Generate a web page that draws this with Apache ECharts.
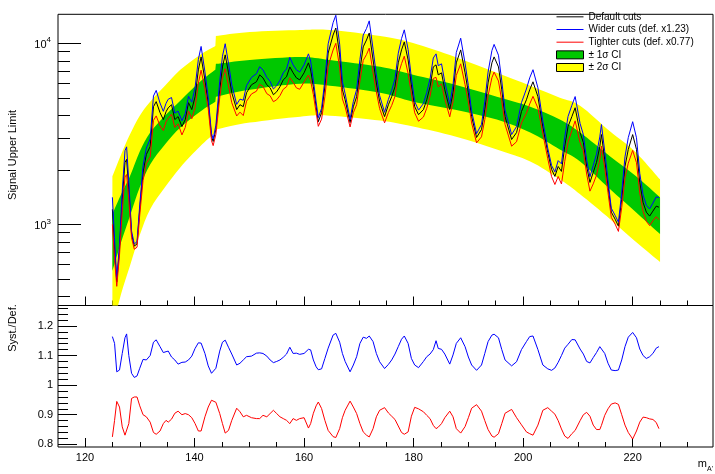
<!DOCTYPE html>
<html>
<head>
<meta charset="utf-8">
<script src="https://cdn.jsdelivr.net/npm/echarts@6/dist/echarts.min.js"></script>
<style>
  html, body { margin: 0; padding: 0; background: #ffffff; }
  #chart { width: 715px; height: 474px; }
</style>
</head>
<body>
<div id="chart"></div>
<script>
// Signal upper limit vs. m_A' for three cut selections, with expected-limit bands,
// and the ratio of the systematic variations to the default selection underneath.

// Mass points of the limit scan
const mass = [
  125.0,125.4,125.8,126.3,126.8,127.3,127.6,128.0,128.5,129.0,
  129.5,130.0,130.6,131.2,131.9,132.5,133.0,133.7,134.3,134.8,
  135.2,135.8,136.4,137.0,137.7,138.3,138.9,139.5,140.1,140.7,
  141.2,141.9,142.5,143.1,143.4,143.9,144.6,145.1,145.6,146.2,
  146.8,147.7,148.3,148.9,149.5,150.4,151.3,151.9,152.5,153.2,
  153.8,154.4,155.0,155.6,156.2,156.8,157.4,158.0,158.6,159.2,
  160.0,160.8,161.2,161.7,162.2,162.6,163.2,163.8,164.4,165.3,
  165.8,166.5,167.0,167.5,168.4,169.0,169.6,170.2,170.8,171.4,
  171.9,172.6,173.2,173.8,174.7,175.4,176.0,176.6,177.2,177.8,
  178.3,179.0,179.6,180.2,180.9,181.8,182.4,183.0,183.6,184.1,
  184.5,185.1,185.7,186.6,187.2,187.8,188.6,189.4,190.0,190.6,
  191.5,192.4,193.0,193.6,194.3,194.7,195.5,196.1,196.7,197.9,
  198.8,199.7,200.6,201.2,201.8,202.7,203.6,204.5,205.2,205.8,
  206.4,207.0,207.6,208.2,208.9,209.5,210.4,211.0,211.6,212.2,
  212.8,213.4,214.0,214.3,214.9,215.5,216.1,216.8,217.4,218.0,
  218.6,219.2,220.0,220.7,221.3,221.9,222.5,223.1,223.7,224.3,
  224.8
];

// Upper limit with the default cuts
const limitDefault = [
  1213,731,482,731,1377,2199,2286,1563,885,760,
  780,1213,1941,2432,2692,4467,4764,4141,3793,4190,
  4406,4580,3793,3938,3467,3793,4699,4306,5070,7130,
  8410,6281,4699,3055,2869,3340,5534,7406,8630,6868,
  5334,4306,4580,4467,5334,5901,6128,6693,6439,5901,
  5678,5199,5398,5754,6281,6531,7406,6868,6439,6281,
  6868,7798,7130,5754,4467,3690,4141,5754,8830,11110,
  12140,8630,5534,4876,3648,4467,5070,7130,9550,10420,
  11400,8090,6040,4764,3938,4580,5070,5754,7798,9190,
  10170,8090,5901,4467,4036,4306,4876,5754,7406,7600,
  6693,6868,5534,4306,5334,7798,9190,6868,5334,3938,
  3020,3340,4306,6040,7798,8410,7406,5534,3938,2944,
  3214,4199,4876,5534,6128,5070,3467,2495,2014,1842,
  2090,1963,2692,3467,3938,4406,3214,2831,2090,1706,
  1936,2199,2692,3133,2286,1626,1169,1069,979,1377,
  2090,2594,3133,2594,1706,1324,1169,1112,1185,1262,
  1245
];

// Wider cuts / default
const ratioWider = [
  1.164,1.141,1.045,1.051,1.107,1.160,1.173,1.100,1.040,1.026,
  1.031,1.057,1.087,1.085,1.100,1.145,1.153,1.130,1.110,1.113,
  1.115,1.095,1.085,1.071,1.077,1.078,1.085,1.098,1.124,1.143,
  1.142,1.107,1.065,1.040,1.034,1.057,1.115,1.145,1.152,1.128,
  1.105,1.068,1.074,1.085,1.096,1.098,1.108,1.109,1.107,1.098,
  1.085,1.076,1.080,1.085,1.094,1.105,1.128,1.107,1.108,1.104,
  1.107,1.121,1.119,1.085,1.062,1.052,1.055,1.090,1.125,1.169,
  1.175,1.145,1.107,1.080,1.045,1.068,1.096,1.141,1.162,1.158,
  1.166,1.147,1.107,1.079,1.056,1.070,1.085,1.105,1.130,1.155,
  1.166,1.141,1.090,1.068,1.059,1.080,1.096,1.105,1.120,1.150,
  1.124,1.121,1.105,1.071,1.102,1.141,1.160,1.130,1.095,1.068,
  1.050,1.068,1.107,1.147,1.169,1.172,1.160,1.120,1.085,1.065,
  1.079,1.120,1.147,1.164,1.166,1.120,1.068,1.055,1.050,1.058,
  1.077,1.100,1.125,1.138,1.154,1.153,1.122,1.105,1.080,1.075,
  1.093,1.110,1.130,1.136,1.107,1.074,1.051,1.049,1.051,1.085,
  1.130,1.162,1.178,1.160,1.122,1.100,1.090,1.096,1.107,1.125,
  1.130
];

// Tighter cuts / default
const ratioTighter = [
  0.825,0.881,0.945,0.926,0.859,0.831,0.825,0.870,0.955,0.960,
  0.960,0.930,0.900,0.893,0.875,0.840,0.834,0.845,0.870,0.881,
  0.875,0.885,0.905,0.912,0.900,0.904,0.900,0.890,0.870,0.845,
  0.845,0.893,0.926,0.949,0.949,0.942,0.904,0.870,0.838,0.847,
  0.881,0.922,0.910,0.893,0.898,0.890,0.887,0.887,0.898,0.893,
  0.904,0.915,0.904,0.893,0.887,0.881,0.870,0.887,0.881,0.887,
  0.890,0.855,0.870,0.905,0.930,0.943,0.921,0.881,0.847,0.826,
  0.823,0.853,0.890,0.915,0.946,0.926,0.904,0.870,0.842,0.831,
  0.825,0.853,0.893,0.915,0.924,0.906,0.895,0.884,0.862,0.840,
  0.834,0.842,0.895,0.925,0.920,0.910,0.898,0.887,0.864,0.853,
  0.858,0.870,0.890,0.912,0.893,0.853,0.838,0.860,0.890,0.922,
  0.934,0.912,0.880,0.850,0.828,0.824,0.836,0.870,0.905,0.918,
  0.890,0.866,0.842,0.836,0.831,0.865,0.915,0.924,0.912,0.902,
  0.880,0.852,0.828,0.820,0.836,0.847,0.880,0.900,0.908,0.895,
  0.865,0.850,0.850,0.864,0.898,0.920,0.936,0.940,0.935,0.900,
  0.865,0.840,0.818,0.845,0.875,0.892,0.890,0.886,0.884,0.874,
  0.853
];

// Expected-limit bands (the edges step at the mass where the inputs change)
const bandMass  = [125.0,126.6,128.2,130.0,131.9,134.6,137.4,141.0,143.8,143.9,150.1,159.3,164.7,173.9,179.9,187.6,195.2,201.3,206.7,210.4,215.9,220.4,225.0];
const band2Up   = [1843,2434,3135,3986,4760,5827,7134,8624,9665,10970,11540,11840,11840,10970,10040,8409,6869,5827,5006,4523,3255,2528,1774];
const band1Up   = [1139,1467,1843,2528,3215,3986,4819,6131,7134,7697,8094,8409,8094,7408,6698,5902,5070,4467,3791,3215,2373,1866,1413];
const band1Low  = [554,800,1111,1603,2145,2762,3425,4193,4760,5070,5539,5977,5827,5332,4760,4300,3791,3215,2592,2227,1563,1183,885];
const band2Low  = [266,414,590,874,1214,1603,2065,2693,3215,3339,3648,3936,3986,3743,3469,3056,2592,2227,1774,1467,1069,810,621];
const BAND_STEP_INDEX = 9;

// Axis ticks
const massMajorTicks = [120,140,160,180,200,220];
const massMinorTicks = [115,120,125,130,135,140,145,150,155,160,165,170,175,180,185,190,195,200,205,210,215,220,225,230];
const limitMajorTicks = [1000,10000];
const limitMinorTicks = [400,500,600,700,800,900,2000,3000,4000,5000,6000,7000,8000,9000];
const ratioMajorTicks = [0.8,0.9,1.0,1.1,1.2];
const ratioMinorTicks = [0.8,0.82,0.84,0.86,0.88,0.9,0.92,0.94,0.96,0.98,1.0,1.02,1.04,1.06,1.08,1.1,1.12,1.14,1.16,1.18,1.2,1.22,1.24,1.26];

// Axis ranges
const MASS_MIN = 115.07, MASS_MAX = 234.67;
const LIMIT_MIN = 357, LIMIT_MAX = 14450;
const RATIO_MIN = 0.791, RATIO_MAX = 1.269;

const FONT = '"Liberation Sans", Arial, Helvetica, sans-serif';
const BLACK = '#000000', BLUE = '#0000ff', RED = '#ff0000', GREEN = '#00c800', YELLOW = '#ffff00';

const pairs = (xs, ys) => xs.map((x, i) => [x, ys[i]]);
const limitWider = limitDefault.map((v, i) => v * ratioWider[i]);
const limitTighter = limitDefault.map((v, i) => v * ratioTighter[i]);
const log10 = (v) => Math.log10(v);

function massAxis(gridIndex, ticks, len, labels) {
  return {
    type: 'value', gridIndex, min: MASS_MIN, max: MASS_MAX, position: 'bottom',
    axisLine: { show: false, onZero: false },
    axisTick: { show: true, inside: true, length: len, customValues: ticks, lineStyle: { color: BLACK, width: 1 } },
    axisLabel: labels
      ? { show: true, customValues: ticks, margin: 5, color: BLACK, fontSize: 11, fontFamily: FONT }
      : { show: false },
    splitLine: { show: false }
  };
}

function tickAxis(gridIndex, min, max, ticks, len, labelOpt) {
  return {
    type: 'value', gridIndex, min, max, position: 'left', offset: 0,
    axisLine: { show: false, onZero: false },
    axisTick: { show: true, inside: true, length: len, customValues: ticks, lineStyle: { color: BLACK, width: 1 } },
    axisLabel: labelOpt ? Object.assign({ show: true, customValues: ticks, color: BLACK, fontFamily: FONT }, labelOpt) : { show: false },
    splitLine: { show: false }
  };
}

// Cubic segments through a run of pixel points (Catmull-Rom style).
function spline(pts, start) {
  let d = start + pts[0][0] + ',' + pts[0][1];
  for (let i = 0; i < pts.length - 1; i++) {
    const p0 = pts[Math.max(i - 1, 0)], p1 = pts[i], p2 = pts[i + 1], p3 = pts[Math.min(i + 2, pts.length - 1)];
    const c1x = p1[0] + (p2[0] - p0[0]) / 6, c1y = p1[1] + (p2[1] - p0[1]) / 6;
    const c2x = p2[0] - (p3[0] - p1[0]) / 6, c2y = p2[1] - (p3[1] - p1[1]) / 6;
    d += 'C' + c1x + ',' + c1y + ' ' + c2x + ',' + c2y + ' ' + p2[0] + ',' + p2[1];
  }
  return d;
}

// A confidence band: one filled shape between its lower and upper edges,
// positioned through the mass axis and the logarithmic limit axis.
function bandSeries(name, lo, hi, color) {
  return {
    name, type: 'custom', xAxisIndex: 0, yAxisIndex: 0, silent: true,
    itemStyle: { color },
    data: bandMass.map((m, i) => [m, lo[i], hi[i]]),
    encode: { x: 0, y: [1, 2] },
    renderItem: (params, api) => {
      if (params.dataIndex !== 0) return null;
      const up = bandMass.map((m, i) => api.coord([m, hi[i]]));
      const dn = bandMass.map((m, i) => api.coord([m, lo[i]]));
      const k = BAND_STEP_INDEX;
      const d =
        spline(up.slice(0, k), 'M') +
        spline(up.slice(k), 'L') +
        spline(dn.slice(k).reverse(), 'L') +
        spline(dn.slice(0, k).reverse(), 'L') + 'Z';
      const cs = params.coordSys;
      return {
        type: 'group',
        clipPath: { type: 'rect', shape: { x: cs.x, y: cs.y, width: cs.width, height: cs.height } },
        children: [{ type: 'path', shape: { pathData: d }, style: { fill: color, stroke: null } }]
      };
    }
  };
}

function curve(name, data, color, xi, yi) {
  return {
    name, type: 'line', xAxisIndex: xi, yAxisIndex: yi, data, symbol: 'none', silent: true,
    lineStyle: { color, width: 1 }, itemStyle: { color }
  };
}

function lineLegend(name, color) {
  return { name, itemStyle: { opacity: 0 }, lineStyle: { color, width: 1 } };
}

const frame = { show: true, borderColor: BLACK, borderWidth: 1, backgroundColor: 'transparent', outerBoundsMode: 'none', containLabel: false };

const option = {
  animation: false,
  backgroundColor: '#ffffff',
  textStyle: { fontFamily: FONT },
  grid: [
    Object.assign({ left: 58, right: 2, top: 14.3, height: 291.2 }, frame),
    Object.assign({ left: 58, right: 2, top: 305.5, height: 141.5 }, frame)
  ],
  xAxis: [
    massAxis(0, massMajorTicks, 9, false),
    massAxis(0, massMinorTicks, 5, false),
    massAxis(1, massMajorTicks, 9, true),
    massAxis(1, massMinorTicks, 5, false)
  ],
  yAxis: [
    { type: 'log', logBase: 10, gridIndex: 0, min: LIMIT_MIN, max: LIMIT_MAX, show: false, splitLine: { show: false } },
    tickAxis(0, log10(LIMIT_MIN), log10(LIMIT_MAX), limitMajorTicks.map(log10), 23, {
      margin: 7,
      formatter: (v) => '{b|10}{s|' + Math.round(v) + '}',
      rich: {
        b: { fontSize: 11, lineHeight: 14, verticalAlign: 'bottom', color: BLACK, fontFamily: FONT },
        s: { fontSize: 8, lineHeight: 14, verticalAlign: 'top', color: BLACK, fontFamily: FONT }
      }
    }),
    tickAxis(0, log10(LIMIT_MIN), log10(LIMIT_MAX), limitMinorTicks.map(log10), 12, null),
    tickAxis(1, RATIO_MIN, RATIO_MAX, ratioMajorTicks, 19, {
      margin: 5, fontSize: 11,
      formatter: (v) => String(+v.toFixed(2))
    }),
    tickAxis(1, RATIO_MIN, RATIO_MAX, ratioMinorTicks, 10, null)
  ],
  legend: {
    orient: 'vertical', left: 556, top: 10.5, padding: 0,
    itemWidth: 27, itemHeight: 8, itemGap: 0,
    selectedMode: false,
    textStyle: { fontSize: 10, lineHeight: 12.67, color: BLACK, fontFamily: FONT },
    data: [
      lineLegend('Default cuts', BLACK),
      lineLegend('Wider cuts (def. x1.23)', BLUE),
      lineLegend('Tighter cuts (def. x0.77)', RED),
      { name: '± 1σ CI', icon: 'rect', itemStyle: { color: GREEN, borderColor: BLACK, borderWidth: 1 } },
      { name: '± 2σ CI', icon: 'rect', itemStyle: { color: YELLOW, borderColor: BLACK, borderWidth: 1 } }
    ]
  },
  graphic: [
    {
      type: 'text', x: 13, y: 155, rotation: Math.PI / 2,
      style: { text: 'Signal Upper Limit', fontSize: 11, fontFamily: FONT, fill: BLACK, align: 'center', verticalAlign: 'middle' }
    },
    {
      type: 'text', x: 13, y: 328, rotation: Math.PI / 2,
      style: { text: 'Syst./Def.', fontSize: 11, fontFamily: FONT, fill: BLACK, align: 'center', verticalAlign: 'middle' }
    },
    {
      type: 'text', x: 713, y: 458,
      style: {
        text: '{m|m}{a|A\'}', align: 'right', verticalAlign: 'top', fill: BLACK,
        rich: {
          m: { fontSize: 11, lineHeight: 15, verticalAlign: 'top', fontFamily: FONT, fill: BLACK },
          a: { fontSize: 7, lineHeight: 15, verticalAlign: 'bottom', fontFamily: FONT, fill: BLACK }
        }
      }
    }
  ],
  series: [
    bandSeries('± 2σ CI', band2Low, band2Up, YELLOW),
    bandSeries('± 1σ CI', band1Low, band1Up, GREEN),
    curve('Default cuts', pairs(mass, limitDefault), BLACK, 0, 0),
    curve('Wider cuts (def. x1.23)', pairs(mass, limitWider), BLUE, 0, 0),
    curve('Tighter cuts (def. x0.77)', pairs(mass, limitTighter), RED, 0, 0),
    curve('Wider / default', pairs(mass, ratioWider), BLUE, 2, 3),
    curve('Tighter / default', pairs(mass, ratioTighter), RED, 2, 3)
  ]
};

const chart = echarts.init(document.getElementById('chart'), null, { renderer: 'canvas' });
chart.setOption(option);
</script>
</body>
</html>
